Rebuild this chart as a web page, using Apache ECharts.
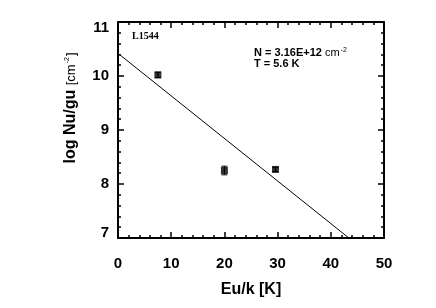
<!DOCTYPE html>
<html><head><meta charset="utf-8">
<script src="https://cdn.jsdelivr.net/npm/echarts@6/dist/echarts.min.js"></script>
<style>html,body{margin:0;padding:0;background:#fff}#c{width:436px;height:308px}</style>
</head><body><div id="c"></div>
<script>
const energies = [7.5, 20.0, 29.6];
const logNu = [10.02, 8.25, 8.27];
const errors = [0.05, 0.08, 0.04];
const fitX = [0, 43.4];
const fitY = [10.42, 7.0];
const xTicks = [0, 10, 20, 30, 40, 50];
const yTicks = [7, 8, 9, 10, 11];

const chart = echarts.init(document.getElementById('c'));
const FONT = 'Liberation Sans, Arial, sans-serif';
const axisCommon = {
  axisLine: {show: true, onZero: false, lineStyle: {color: '#000', width: 2}},
  axisTick: {show: true, inside: true, length: 6, lineStyle: {color: '#000', width: 1.5}},
  minorTick: {show: true, splitNumber: 5, length: 3, lineStyle: {color: '#000', width: 1.5}},
  splitLine: {show: false}
};
const yLab = {fontFamily: FONT, fontWeight: 'bold', fontSize: 15, color: '#000'};
chart.setOption({
  animation: false,
  backgroundColor: '#fff',
  grid: {left: 118, right: 52, top: 22, bottom: 70},
  xAxis: [
    Object.assign({type: 'value', min: xTicks[0], max: xTicks[xTicks.length-1], interval: 10, position: 'bottom',
      axisLabel: {color: '#000', fontFamily: FONT, fontWeight: 'bold', fontSize: 15, margin: 18},
      name: 'Eu/k [K]', nameLocation: 'middle', nameGap: 44,
      nameTextStyle: {color: '#000', fontFamily: FONT, fontWeight: 'bold', fontSize: 16}}, axisCommon),
    Object.assign({type: 'value', min: xTicks[0], max: xTicks[xTicks.length-1], interval: 10, position: 'top',
      axisLabel: {show: false}}, axisCommon)
  ],
  yAxis: [
    Object.assign({type: 'value', min: yTicks[0], max: yTicks[yTicks.length-1], interval: 1, position: 'left',
      axisLabel: {color: '#000', fontFamily: FONT, fontWeight: 'bold', fontSize: 15, margin: 9,
        formatter: function (v) {
          if (v === yTicks[yTicks.length-1]) return '{hi|' + v + '}';
          if (v === yTicks[0]) return '{lo|' + v + '}';
          return '{n|' + v + '}';
        },
        rich: {
          n: yLab,
          hi: Object.assign({padding: [12, 0, 0, 0]}, yLab),
          lo: Object.assign({padding: [0, 0, 10, 0]}, yLab)
        }}}, axisCommon),
    Object.assign({type: 'value', min: yTicks[0], max: yTicks[yTicks.length-1], interval: 1, position: 'right',
      axisLabel: {show: false}}, axisCommon)
  ],
  graphic: [
    {type: 'text', x: 71, y: 108, rotation: Math.PI/2, style: {
      text: '{b|log Nu/gu }{r|[cm}{s|-2}{r|]}', align: 'center', verticalAlign: 'middle',
      rich: {
        b: {fontFamily: FONT, fontWeight: 'bold', fontSize: 16, fill: '#000'},
        r: {fontFamily: FONT, fontSize: 13, fill: '#000'},
        s: {fontFamily: FONT, fontSize: 7, fill: '#000', padding: [0,1,8,1]}
      }}},
    {type: 'text', x: 132, y: 36, style: {text: 'L1544', fontFamily: 'Liberation Serif, Times New Roman, serif',
      fontWeight: 'bold', fontSize: 10, fill: '#000', verticalAlign: 'middle'}},
    {type: 'text', x: 254, y: 53, style: {
      text: '{b|N = 3.16E+12 }{r|cm}{s|-2}', verticalAlign: 'middle',
      rich: {
        b: {fontFamily: FONT, fontWeight: 'bold', fontSize: 11, fill: '#000'},
        r: {fontFamily: FONT, fontSize: 11, fill: '#000'},
        s: {fontFamily: FONT, fontSize: 7, fill: '#000', padding: [0,0,6,1]}
      }}},
    {type: 'text', x: 254, y: 64, style: {text: 'T = 5.6 K', fontFamily: FONT, fontWeight: 'bold',
      fontSize: 11, fill: '#000', verticalAlign: 'middle'}}
  ],
  series: [
    {type: 'line', data: fitX.map((x, i) => [x, fitY[i]]), symbol: 'none',
      lineStyle: {color: '#000', width: 1}, clip: true},
    {type: 'custom', data: energies.map((x, i) => [x, logNu[i] - errors[i], logNu[i] + errors[i]]),
      renderItem: function (params, api) {
        const lo = api.coord([api.value(0), api.value(1)]);
        const hi = api.coord([api.value(0), api.value(2)]);
        return {type: 'group', children: [
          {type: 'line', shape: {x1: lo[0], y1: lo[1], x2: hi[0], y2: hi[1]}, style: {stroke: '#000', lineWidth: 1}},
          {type: 'line', shape: {x1: lo[0]-3, y1: lo[1], x2: lo[0]+3, y2: lo[1]}, style: {stroke: '#000', lineWidth: 1}},
          {type: 'line', shape: {x1: hi[0]-3, y1: hi[1], x2: hi[0]+3, y2: hi[1]}, style: {stroke: '#000', lineWidth: 1}}
        ]};
      }},
    {type: 'scatter', data: energies.map((x, i) => [x, logNu[i]]), symbol: 'rect', symbolSize: 7,
      itemStyle: {color: '#000'}}
  ]
});
</script></body></html>
